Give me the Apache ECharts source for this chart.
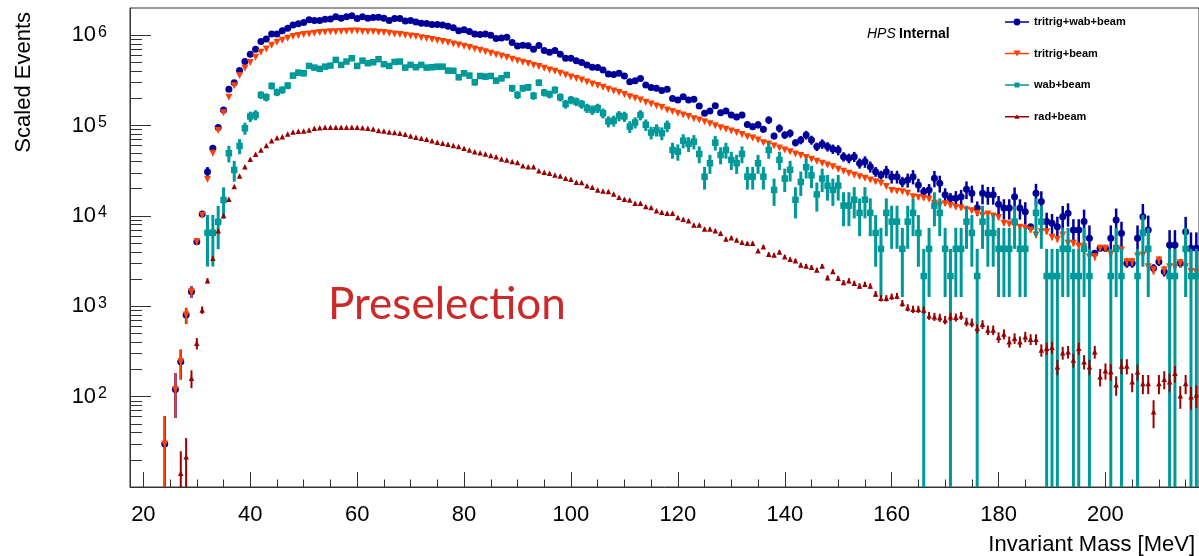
<!DOCTYPE html>
<html>
<head>
<meta charset="utf-8">
<script src="https://cdn.jsdelivr.net/npm/echarts@6/dist/echarts.min.js"></script>
<style>
html,body{margin:0;padding:0;background:#fff;}
#chart{width:1199px;height:556px;}
</style>
</head>
<body>
<div id="chart"></div>
<script>
// ---------------- data (1 MeV bins, first bin centred at 24 MeV) ----------------
const FIRST_BIN = 24;

const tritrigWabBeam = [
  30, null, 120, 243, 801, 1450,                                                         // 24-29
  5190, 10500, 30900, 56100, 94900, 149000, 252000, 298000, 406000, 511000,              // 30-39
  617000, 700000, 849000, 910000, 1030000, 1030000, 1120000, 1190000, 1300000, 1340000,  // 40-49
  1380000, 1480000, 1450000, 1450000, 1500000, 1510000, 1600000, 1540000, 1600000, 1640000, // 50-59
  1530000, 1600000, 1540000, 1570000, 1580000, 1540000, 1450000, 1530000, 1530000, 1440000, // 60-69
  1450000, 1400000, 1360000, 1350000, 1310000, 1310000, 1300000, 1260000, 1210000, 1120000, // 70-79
  1150000, 1100000, 1030000, 1020000, 1030000, 1000000, 917000, 934000, 951000, 829000,  // 80-89
  760000, 775000, 762000, 700000, 767000, 676000, 649000, 676000, 617000, 556000,        // 90-99
  556000, 523000, 498000, 469000, 442000, 440000, 413000, 373000, 367000, 379000,        // 100-109
  354000, 306000, 314000, 331000, 282000, 263000, 259000, 244000, 252000, 199000,        // 110-119
  192000, 209000, 192000, 195000, 165000, 137000, 145000, 166000, 139000, 145000,        // 120-129
  131000, 124000, 131000, 103000, 97300, 102000, 91000, 115000, 76700, 93300,            // 130-139
  78700, 82200, 64700, 69300, 78700, 69300, 58500, 62700, 58500, 55100,                  // 140-149
  53700, 45300, 43500, 45300, 38300, 39900, 35100, 30900, 28400, 30900,                  // 150-159
  27200, 27200, 23900, 25000, 27200, 22000, 18600, 19400, 26100, 23000,                  // 160-169
  17100, 15700, 15700, 16300, 19700, 17800, 12200, 17800, 17100, 17100,                  // 170-179
  13500, 12200, 12200, 16300, 12200, 11100, 7600, 17800, 14400, 8650,                    // 180-189
  8300, 7600, 9800, 10700, 7000, 7000, 8650, 5660, 3860, 4390,                           // 190-199
  4390, 5660, 9000, 6430, 2990, 2990, 5660, 9800, 7000, 2640,                            // 200-209
  3120, 2420, 4780, 4780, 2990, 6700, 4390, 4390                                         // 210-217
];

const tritrigBeam = [
  30, null, 120, 243, 801, 1450,
  5190, 10200, 25500, 49400, 87900, 139000, 206000, 275000, 357000, 431000,
  498000, 570000, 649000, 705000, 775000, 836000, 880000, 927000, 966000, 991000,
  1016000, 1030000, 1050000, 1070000, 1080000, 1090000, 1090000, 1100000, 1105000, 1110000,
  1110000, 1100000, 1090000, 1090000, 1080000, 1070000, 1050000, 1030000, 1016000, 1000000,
  982000, 966000, 940000, 917000, 894000, 871000, 849000, 829000, 801000, 781000,
  756000, 729000, 705000, 682000, 658000, 631000, 609000, 590000, 565000, 542000,
  523000, 502000, 485000, 466000, 450000, 431000, 413000, 399000, 379000, 363000,
  345000, 331000, 320000, 304000, 289000, 277000, 265000, 252000, 242000, 232000,
  220000, 209000, 200000, 192000, 181000, 173000, 165000, 158000, 149000, 143000,
  137000, 131000, 126000, 119000, 115000, 110000, 105000, 99800, 94800, 91000,
  87200, 83600, 79400, 75400, 72900, 69300, 64700, 62700, 59500, 56500,
  53700, 51400, 48500, 46500, 44200, 42400, 40300, 38300, 36600, 35100,
  32900, 31200, 29600, 28400, 27200, 26100, 25000, 23900, 23000, 21100,
  19100, 18800, 18500, 17800, 16300, 16000, 15700, 15300, 13800, 13200,
  13600, 13000, 12500, 12200, 11600, 11400, 10700, 10100, 10500, 10000,
  9580, 8300, 8150, 7750, 7500, 7300, 7000, 6160, 6700, 6700,
  5800, 5520, 6160, 4980, 4980, 4650, 4570, 3500, 3540, 4390,
  4390, 3790, 4390, 4200, 3120, 3120, 3600, 3700, 2740, 2520,
  3250, 2520, 2740, 2740, 3040, 2740, 2420, 2400
];

const wabBeam = [
  null, null, null, null, null, null,
  null, null, 6500, 6500, 8600, 15000, 49400, 32300, 59500, 93300,
  126000, 131000, 218000, 206000, 275000, 234000, 248000, 277000, 357000, 385000,
  379000, 457000, 438000, 424000, 449000, 461000, 533000, 469000, 511000, 556000,
  457000, 523000, 490000, 502000, 542000, 478000, 457000, 506000, 511000, 438000,
  469000, 442000, 469000, 438000, 442000, 449000, 449000, 406000, 404000, 343000,
  379000, 357000, 302000, 354000, 348000, 354000, 314000, 334000, 363000, 259000,
  218000, 259000, 265000, 214000, 298000, 232000, 222000, 248000, 206000, 173000,
  192000, 184000, 173000, 156000, 149000, 156000, 137000, 111000, 113000, 128000,
  126000, 97300, 108000, 131000, 102000, 83600, 89500, 82200, 99100, 53700,
  51400, 68100, 62700, 66400, 48500, 27200, 38300, 64700, 47300, 53700,
  41700, 38300, 48500, 27200, 27200, 38300, 27200, 53700, 19400, 41700,
  25900, 32400, 15100, 23800, 34600, 28100, 17300, 25900, 21600, 19400,
  21600, 13000, 13000, 15100, 10800, 15100, 10800, 6480, 4320, 10800,
  8640, 8640, 4320, 8640, 10800, 6480, 2160, 4320, 12960, 10800,
  4320, 2160, 4320, 4320, 8640, 6480, 2160, 8640, 6480, 6480,
  4320, 4320, 4320, 8640, 4320, 4320, null, 10800, 8640, 2160,
  2160, 2160, 4320, 4320, 2160, 2160, 4320, 2160, null, null,
  null, 2160, 4320, 2160, null, null, 2160, 6480, 4320, null,
  null, null, 2160, 2160, null, 4320, 2160, 2160
];

const radBeam = [
  null, null, null, 14.2, 21.6, 160,
  389, 910, 1920, 3400, 6870, 10100, 15300, 21100, 27700, 35100,
  42400, 48200, 53700, 60000, 68100, 73500, 75400, 80700, 84900, 86400,
  87000, 89500, 93300, 94800, 95700, 95700, 95700, 95700, 95700, 95700,
  95700, 94800, 93300, 91800, 87900, 87000, 84900, 83700, 82200, 80200,
  76700, 74300, 72400, 70600, 68100, 65300, 63700, 62100, 60000, 58500,
  56100, 53700, 51400, 50100, 48500, 46500, 45300, 42600, 41700, 40000,
  38900, 36000, 35100, 35100, 31700, 30400, 29600, 28400, 27700, 26100,
  25500, 23600, 23400, 21600, 20800, 19400, 18900, 18600, 17500, 16100,
  15300, 15000, 13800, 13800, 12700, 12400, 11400, 11000, 10700, 10700,
  9580, 9190, 8870, 7940, 7940, 7180, 7180, 6870, 6430, 5560,
  5750, 5420, 5100, 4980, 4980, 4120, 4570, 3770, 3700, 3990,
  3540, 3310, 3200, 2870, 2790, 2700, 2520, 2790, 2070, 2420,
  2040, 1830, 1920, 1800, 1680, 1750, 1680, 1370, 1230, 1230,
  1280, 1300, 1080, 966, 927, 927, 911, 787, 767, 749,
  705, 767, 755, 787, 675, 658, 570, 631, 546, 546,
  454, 493, 406, 443, 406, 460, 431, 431, 328, 343,
  352, 214, 306, 314, 254, 343, 244, 214, 314, 166,
  194, 189, 135, 218, 218, 146, 189, 140, 140, 68,
  140, 156, 146, 181, 102, 140, 100, 104
];

// per-event weights of each sample
const W_TRITRIG = 32;
const W_WAB = 2160;
const W_RAD = 8;

const xTickLabels = [20, 40, 60, 80, 100, 120, 140, 160, 180, 200];
const yTickLabels = [100, 1000, 10000, 100000, 1000000];

// ---------------- derived ----------------
const X_MIN = 17.5, X_MAX = 217.5, Y_MIN = 10, Y_MAX = 2e6;
const mass = tritrigBeam.map((_, i) => FIRST_BIN + i);

const xMinor = [];
for (let v = 20; v <= 215; v += 5) if (v % 20 !== 0) xMinor.push(v);
const yMajor = [10].concat(yTickLabels);
const yMinor = [];
for (let e = 1; e <= 6; e++) for (let k = 2; k <= 9; k++) { const v = k * Math.pow(10, e); if (v < Y_MAX) yMinor.push(v); }

const errTri = tritrigBeam.map(v => v == null ? null : Math.sqrt(v * W_TRITRIG));
const errWab = wabBeam.map(v => v == null ? null : Math.sqrt(v * W_WAB));
const errRad = radBeam.map(v => v == null ? null : Math.sqrt(v * W_RAD));
const errAll = tritrigWabBeam.map((v, i) => v == null ? null :
  Math.sqrt((tritrigBeam[i] || 0) * W_TRITRIG + (wabBeam[i] || 0) * W_WAB));

const FONT = '"Liberation Sans", Arial, Helvetica, sans-serif';

const C_ALL = '#000099', C_TRI = '#ff4000', C_WAB = '#009999', C_RAD = '#990000';

function barSeries(name, vals, errs, color, width, z) {
  const data = [];
  vals.forEach((v, i) => {
    if (v == null) return;
    data.push([mass[i], Math.max(v - errs[i], Y_MIN), Math.min(v + errs[i], Y_MAX)]);
  });
  return {
    type: 'custom', name, data, z, clip: true, silent: true, animation: false,
    itemStyle: { color },
    encode: { x: 0, y: [1, 2] },
    renderItem: (p, api) => {
      const a = api.coord([api.value(0), api.value(1)]);
      const b = api.coord([api.value(0), api.value(2)]);
      return { type: 'line', shape: { x1: a[0], y1: a[1], x2: b[0], y2: b[1] },
               style: { stroke: color, lineWidth: width } };
    }
  };
}
function markSeries(name, vals, symbol, size, color, z, rotate) {
  const data = [];
  vals.forEach((v, i) => { if (v != null) data.push([mass[i], v]); });
  return {
    type: 'scatter', name, data, symbol, symbolSize: size, symbolRotate: rotate || 0,
    itemStyle: { color, opacity: 1 }, z, silent: true, animation: false,
    emphasis: { disabled: true }
  };
}

const N1 = 'tritrig+wab+beam', N2 = 'tritrig+beam', N3 = 'wab+beam', N4 = 'rad+beam';
const LINE = 'M0,4.3H24V5.7H0Z ';

const option = {
  animation: false,
  backgroundColor: '#ffffff',
  grid: { left: 130, top: 8, width: 1070, height: 479, show: true,
          borderColor: '#333', borderWidth: 1, backgroundColor: 'transparent' },
  xAxis: [
    { type: 'value', min: X_MIN, max: X_MAX, position: 'bottom',
      axisLine: { show: true, lineStyle: { color: '#333', width: 1 } },
      axisTick: { show: true, inside: true, length: 15, customValues: xTickLabels, lineStyle: { color: '#333' } },
      axisLabel: { show: true, customValues: xTickLabels, margin: 17, fontSize: 22, fontFamily: FONT, color: '#000' },
      splitLine: { show: false } },
    { type: 'value', min: X_MIN, max: X_MAX, position: 'bottom',
      axisLine: { show: false }, axisLabel: { show: false },
      axisTick: { show: true, inside: true, length: 7.5, customValues: xMinor, lineStyle: { color: '#333' } },
      splitLine: { show: false } }
  ],
  yAxis: [
    { type: 'log', logBase: 10, min: Y_MIN, max: Y_MAX, position: 'left',
      axisLine: { show: true, lineStyle: { color: '#333', width: 1 } },
      axisTick: { show: true, inside: true, length: 21, customValues: yMajor, lineStyle: { color: '#333' } },
      axisLabel: { show: true, customValues: yTickLabels, margin: 23,
        formatter: v => '{b|10}{s|' + Math.round(Math.log10(v)) + '}',
        rich: {
          b: { fontSize: 22, fontFamily: FONT, color: '#000', lineHeight: 22, verticalAlign: 'bottom', padding: [5, 0, 0, 0] },
          s: { fontSize: 16, fontFamily: FONT, color: '#000', lineHeight: 16, verticalAlign: 'top', padding: [0, 0, 0, 2] }
        } },
      splitLine: { show: false } },
    { type: 'log', logBase: 10, min: Y_MIN, max: Y_MAX, position: 'left',
      axisLine: { show: false }, axisLabel: { show: false },
      axisTick: { show: true, inside: true, length: 12, customValues: yMinor, lineStyle: { color: '#333' } },
      splitLine: { show: false } }
  ],
  legend: {
    orient: 'vertical', left: 1005, top: 16, padding: 0, itemWidth: 24, itemHeight: 10, itemGap: 19.5,
    selectedMode: false,
    textStyle: { fontFamily: FONT, fontWeight: 'bold', fontSize: 11, color: '#000', lineHeight: 12 },
    data: [
      { name: N1, icon: 'path://' + LINE + 'M12,1.6A3.4,3.4,0,1,1,11.99,1.6Z', itemStyle: { color: C_ALL } },
      { name: N2, icon: 'path://' + LINE + 'M8.5,2H15.5L12,8Z', itemStyle: { color: C_TRI } },
      { name: N3, icon: 'path://' + LINE + 'M9.5,2.5H14.5V7.5H9.5Z', itemStyle: { color: C_WAB } },
      { name: N4, icon: 'path://' + LINE + 'M12,2.5L14.5,7H9.5Z', itemStyle: { color: C_RAD } }
    ]
  },
  graphic: [
    { type: 'text', x: 24, y: 12, rotation: Math.PI / 2, z: 100, silent: true,
      style: { text: 'Scaled Events', fontSize: 22, fontFamily: FONT, fill: '#000', align: 'right', verticalAlign: 'middle' } },
    { type: 'text', x: 1195, y: 545, z: 100, silent: true,
      style: { text: 'Invariant Mass [MeV]', fontSize: 22, fontFamily: FONT, fill: '#000', align: 'right', verticalAlign: 'middle' } },
    { type: 'text', x: 328, y: 305, z: 100, silent: true,
      style: { text: 'Preselection', fontSize: 44, fontFamily: 'Lato, "Open Sans", sans-serif', fill: '#cc2a2a', align: 'left', verticalAlign: 'middle' } },
    { type: 'text', x: 867, y: 34, z: 100, silent: true,
      style: { text: '{i|HPS} {b|Internal}', align: 'left', verticalAlign: 'middle',
        rich: { i: { fontSize: 14, fontFamily: FONT, fontStyle: 'italic', fill: '#000', color: '#000' },
                b: { fontSize: 14, fontFamily: FONT, fontWeight: 'bold', fill: '#000', color: '#000' } } } }
  ],
  series: [
    barSeries(N1, tritrigWabBeam, errAll, C_ALL, 2.5, 2),
    markSeries(N1, tritrigWabBeam, 'circle', 7, C_ALL, 3),
    barSeries(N2, tritrigBeam, errTri, C_TRI, 2, 4),
    markSeries(N2, tritrigBeam, 'triangle', 7, C_TRI, 5, 180),
    barSeries(N3, wabBeam, errWab, C_WAB, 3, 6),
    markSeries(N3, wabBeam, 'rect', 6.5, C_WAB, 7),
    barSeries(N4, radBeam, errRad, C_RAD, 2, 8),
    markSeries(N4, radBeam, 'triangle', 5.5, C_RAD, 9)
  ]
};

const chart = echarts.init(document.getElementById('chart'), null, { renderer: 'canvas' });
chart.setOption(option);
</script>
</body>
</html>
